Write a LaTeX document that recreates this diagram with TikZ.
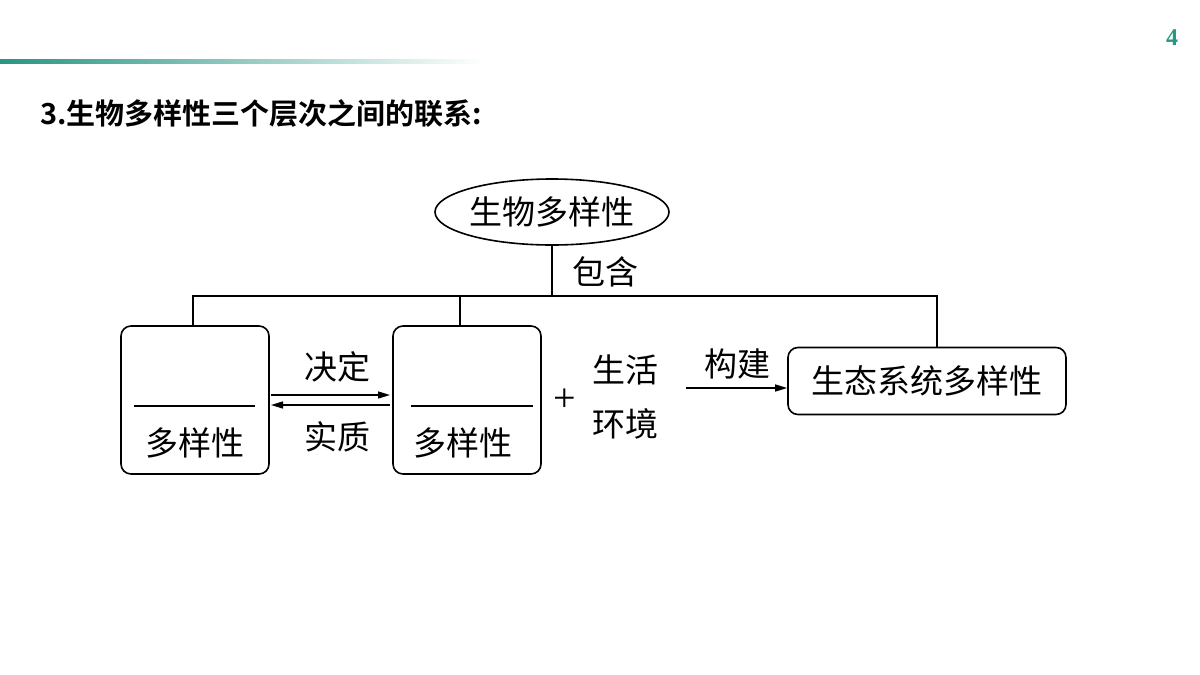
\documentclass[tikz,border=0pt]{standalone}
\usepackage{fontspec}
\newfontfamily\cjk{Noto Sans CJK SC}
\newfontfamily\cjkb{Noto Sans CJK SC Bold}
\setmainfont{Liberation Serif}
\usetikzlibrary{shapes.geometric,arrows.meta}
\definecolor{teal4}{RGB}{40,150,130}
\begin{document}
\begin{tikzpicture}[x=1pt,y=-1pt,
  lbl/.style={font=\cjk\fontsize{33}{35}\selectfont,inner sep=0pt},
  bx/.style={draw,line width=1.6pt,rounded corners=10pt},
  ln/.style={line width=1.6pt},
  arr/.style={line width=1.4pt,-{Stealth[length=12pt,width=7pt,inset=0pt]}}]
\useasboundingbox (0,0) rectangle (1200,675);
\fill[white] (0,0) rectangle (1200,675);
\shade[left color=teal4,right color=white] (0,59) rectangle (485,63);
\node[text=teal4,font=\fontsize{24}{26}\selectfont\bfseries] (pg) at (1172,38) {4};
\node[anchor=west,font=\cjkb\fontsize{29}{31}\selectfont,inner sep=0pt] (title) at (40,113) {3.生物多样性三个层次之间的联系:};
\node[draw,ellipse,line width=1.6pt,minimum width=234pt,minimum height=66pt,lbl] (top) at (552,212) {生物多样性};
\coordinate (j) at (552,296);
\draw[ln] (top.south) -- (j);
\node[lbl] (bh) at (605,272) {包含};
\node[bx,minimum width=148pt,minimum height=148pt] (b1) at (195,400) {};
\node[bx,minimum width=148pt,minimum height=148pt] (b2) at (467,400) {};
\node[bx,minimum width=278pt,minimum height=67pt] (b3) at (927,381) {};
\node[lbl] (t3) at (927,381) {生态系统多样性};
\node[lbl] (t1) at (195,443) {多样性};
\node[lbl] (t2) at (463,443) {多样性};
\draw[ln] (134,406) -- (255,406);
\draw[ln] (411,406) -- (533,406);
\coordinate (l) at (193,296); \coordinate (m) at (460,296); \coordinate (r) at (937,296);
\draw[ln] (b1.north -| l) -- (l) -- (r) -- (b3.north -| r);
\draw[ln] (m) -- (b2.north -| m);
\draw[arr] (271,395) -- (390,395);
\draw[arr] (390,405) -- (271,405);
\node[lbl] (jd) at (337,367) {决定};
\node[lbl] (sz) at (337,437) {实质};
\node[font=\fontsize{40}{42}\selectfont] (plus) at (565,400) {+};
\node[lbl] (sh) at (625,370) {生活};
\node[lbl] (hj) at (625,424) {环境};
\node[lbl] (gj) at (737,364) {构建};
\draw[arr] (686,388) -- (b3.west |- 0,388);
\end{tikzpicture}
\end{document}
